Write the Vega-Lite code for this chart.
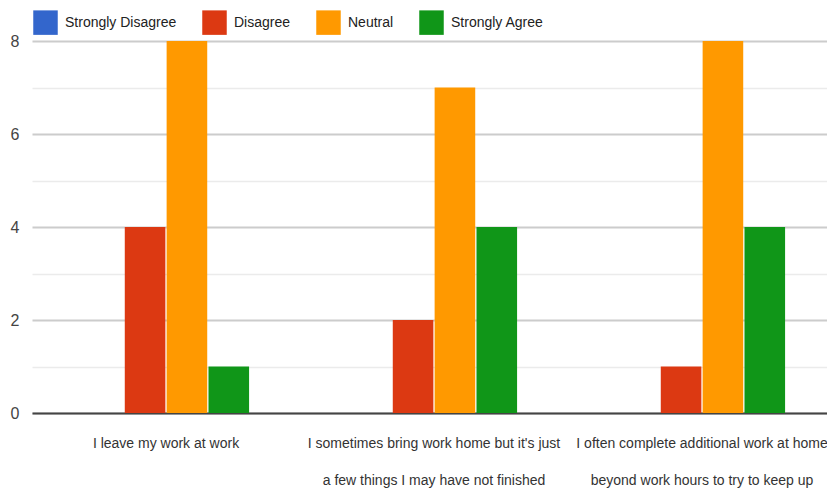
{
  "$schema": "https://vega.github.io/schema/vega-lite/v6.json",
  "width": 804,
  "height": 372,
  "autosize": {"type": "none"},
  "padding": {"left": 32, "top": 41, "right": 0, "bottom": 82},
  "background": "white",
  "config": {
    "font": "Liberation Sans, Arial, sans-serif",
    "view": {"stroke": null}
  },
  "data": {
    "values": [
      {"statement": "I leave my work at work", "response": "Strongly Disagree", "count": 0},
      {"statement": "I leave my work at work", "response": "Disagree", "count": 4},
      {"statement": "I leave my work at work", "response": "Neutral", "count": 8},
      {"statement": "I leave my work at work", "response": "Strongly Agree", "count": 1},
      {"statement": "I sometimes bring work home but it's just|a few things I may have not finished", "response": "Strongly Disagree", "count": 0},
      {"statement": "I sometimes bring work home but it's just|a few things I may have not finished", "response": "Disagree", "count": 2},
      {"statement": "I sometimes bring work home but it's just|a few things I may have not finished", "response": "Neutral", "count": 7},
      {"statement": "I sometimes bring work home but it's just|a few things I may have not finished", "response": "Strongly Agree", "count": 4},
      {"statement": "I often complete additional work at home|beyond work hours to try to keep up", "response": "Strongly Disagree", "count": 0},
      {"statement": "I often complete additional work at home|beyond work hours to try to keep up", "response": "Disagree", "count": 1},
      {"statement": "I often complete additional work at home|beyond work hours to try to keep up", "response": "Neutral", "count": 8},
      {"statement": "I often complete additional work at home|beyond work hours to try to keep up", "response": "Strongly Agree", "count": 4}
    ]
  },
  "mark": {"type": "bar"},
  "encoding": {
    "x": {
      "field": "statement",
      "type": "nominal",
      "sort": null,
      "scale": {"paddingInner": 0.38, "paddingOuter": 0.19},
      "axis": {
        "title": null,
        "labelAngle": 0,
        "labelExpr": "split(datum.label, '|')",
        "labelFontSize": 14,
        "labelLineHeight": 37,
        "labelPadding": 23,
        "labelColor": "#333333",
        "labelLimit": 0,
        "labelOverlap": false,
        "labelBound": false,
        "ticks": false,
        "domainColor": "#444444",
        "domainWidth": 2
      }
    },
    "xOffset": {
      "field": "response",
      "type": "nominal",
      "sort": ["Strongly Disagree", "Disagree", "Neutral", "Strongly Agree"],
      "scale": {"paddingInner": 0.03}
    },
    "y": {
      "field": "count",
      "type": "quantitative",
      "scale": {"domain": [0, 8], "nice": false},
      "axis": {
        "title": null,
        "values": [0, 1, 2, 3, 4, 5, 6, 7, 8],
        "labelExpr": "datum.value % 2 == 0 ? datum.label : ''",
        "labelFontSize": 16,
        "labelColor": "#444444",
        "labelPadding": 13,
        "domain": false,
        "ticks": false,
        "gridColor": {"condition": {"test": "datum.value % 2 == 1", "value": "#ebebeb"}, "value": "#cccccc"},
        "gridWidth": {"condition": {"test": "datum.value % 2 == 1", "value": 1.5}, "value": 2}
      }
    },
    "color": {
      "field": "response",
      "type": "nominal",
      "sort": ["Strongly Disagree", "Disagree", "Neutral", "Strongly Agree"],
      "scale": {
        "domain": ["Strongly Disagree", "Disagree", "Neutral", "Strongly Agree"],
        "range": ["#3366cc", "#dc3912", "#ff9900", "#109618"]
      },
      "legend": {
        "title": null,
        "orient": "none",
        "direction": "horizontal",
        "legendX": 1,
        "legendY": -31,
        "symbolType": "square",
        "symbolSize": 600,
        "symbolStrokeWidth": 0,
        "symbolOpacity": 1,
        "labelFontSize": 14,
        "labelColor": "#222222",
        "labelOffset": 7,
        "columnPadding": 25,
        "labelLimit": 0
      }
    }
  }
}
